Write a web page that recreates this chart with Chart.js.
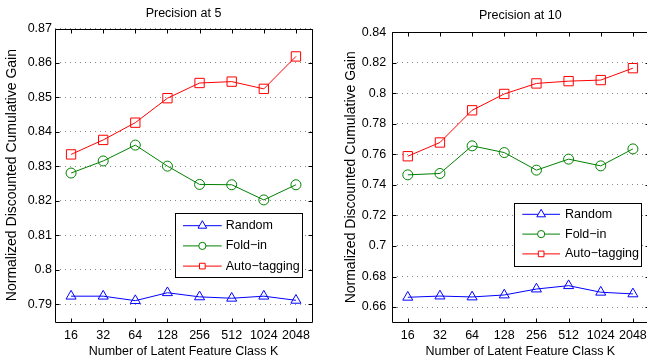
<!DOCTYPE html>
<html>
<head>
<meta charset="utf-8">
<script src="https://cdn.jsdelivr.net/npm/chart.js@4.4.1/dist/chart.umd.min.js"></script>
<style>
  html, body { margin: 0; padding: 0; background: #fff; overflow: hidden; }
  body { width: 647px; height: 360px; position: relative; }
  canvas { position: absolute; top: 0; }
</style>
</head>
<body>
<canvas id="p5" width="320" height="360" style="left:0"></canvas>
<canvas id="p10" width="340" height="360" style="left:320px"></canvas>
<script>
// latent feature class sizes K
const kLabels = ["16", "32", "64", "128", "256", "512", "1024", "2048"];
const seriesNames = ["Random", "Fold\u2212in", "Auto\u2212tagging"];

// precision at 5
const randomP5 = [0.7924, 0.7924, 0.7911, 0.7934, 0.7922, 0.7918, 0.7924, 0.7912];
const foldinP5 = [0.8281, 0.8316, 0.8362, 0.8301, 0.8248, 0.8247, 0.8203, 0.8247];
const autotagP5 = [0.8335, 0.8377, 0.8427, 0.8498, 0.8542, 0.8546, 0.8525, 0.8619];
const yTicksP5 = [0.79, 0.80, 0.81, 0.82, 0.83, 0.84, 0.85, 0.86, 0.87];

// precision at 10
const randomP10 = [0.6664, 0.6672, 0.6666, 0.6679, 0.6718, 0.6740, 0.6697, 0.6686];
const foldinP10 = [0.7466, 0.7475, 0.7656, 0.7612, 0.7497, 0.7569, 0.7525, 0.7636];
const autotagP10 = [0.7588, 0.7678, 0.7889, 0.7996, 0.8065, 0.8080, 0.8087, 0.8165];
const yTicksP10 = [0.66, 0.68, 0.70, 0.72, 0.74, 0.76, 0.78, 0.80, 0.82, 0.84];

const FONT = "'Liberation Sans', Arial, Helvetica, sans-serif";
const TXT = "#000";

const styles = [
  { color: "#0000ff", point: "triangle", radius: 5.8, legendRadius: 5 },
  { color: "#008000", point: "circle", radius: 5, legendRadius: 3.6 },
  { color: "#ff0000", point: "rect", radius: 6.6, legendRadius: 4 },
];

// box with inward ticks on all four sides + legend inside the axes
const matlabAxes = {
  id: "matlabAxes",
  afterDatasetsDraw(chart, args, opts) {
    const { ctx, chartArea: a, scales: { x, y } } = chart;
    const L = Math.round(a.left) + 0.5, R = Math.round(a.right) + 0.5;
    const T = Math.round(a.top) + 0.5, B = Math.round(a.bottom) + 0.5;
    ctx.save();
    ctx.strokeStyle = "#000";
    ctx.lineWidth = 1;
    ctx.beginPath();
    ctx.rect(L, T, R - L, B - T);
    kLabels.forEach((k, i) => {
      const px = Math.round(x.getPixelForValue(i)) + 0.5;
      ctx.moveTo(px, T); ctx.lineTo(px, T + 4);
      ctx.moveTo(px, B); ctx.lineTo(px, B - 4);
    });
    opts.ticks.forEach(v => {
      const py = Math.round(y.getPixelForValue(v)) + 0.5;
      ctx.moveTo(L, py); ctx.lineTo(L + 4, py);
      ctx.moveTo(R, py); ctx.lineTo(R - 4, py);
    });
    ctx.stroke();

    // legend
    const lg = opts.legend;
    ctx.fillStyle = "#fff";
    ctx.fillRect(lg.left, lg.top, lg.width, lg.height);
    ctx.strokeRect(Math.round(lg.left) + 0.5, Math.round(lg.top) + 0.5, Math.round(lg.width), Math.round(lg.height));
    ctx.font = "12.5px " + FONT;
    ctx.textBaseline = "middle";
    ctx.textAlign = "left";
    seriesNames.forEach((name, i) => {
      const st = styles[i];
      const ry = lg.top + lg.rowStart + i * lg.rowGap;
      ctx.strokeStyle = st.color;
      ctx.lineWidth = 1;
      ctx.beginPath();
      ctx.moveTo(lg.left + lg.lineStart, ry);
      ctx.lineTo(lg.left + lg.lineStart + lg.lineLen, ry);
      ctx.stroke();
      ctx.fillStyle = "#fff";
      Chart.helpers.drawPoint(ctx, { pointStyle: st.point, radius: st.legendRadius, borderWidth: 1 },
        lg.left + lg.lineStart + lg.lineLen / 2, ry);
      ctx.fillStyle = TXT;
      ctx.fillText(name, lg.left + lg.textX, ry);
    });
    ctx.restore();
  }
};

function makeChart(id, title, values, yMin, yMax, yTicks, lay) {
  const datasets = values.map((vals, i) => ({
    label: seriesNames[i],
    data: vals,
    borderColor: styles[i].color,
    backgroundColor: "rgba(0,0,0,0)",
    pointBackgroundColor: "rgba(0,0,0,0)",
    pointBorderColor: styles[i].color,
    pointStyle: styles[i].point,
    pointRadius: styles[i].radius,
    pointBorderWidth: 1,
    borderWidth: 1,
    tension: 0,
    fill: false,
  }));

  return new Chart(document.getElementById(id), {
    type: "line",
    data: { labels: kLabels, datasets },
    plugins: [matlabAxes],
    options: {
      responsive: false,
      animation: false,
      devicePixelRatio: 1,
      layout: { padding: { left: 0, right: lay.padRight, top: 0, bottom: 0 } },
      scales: {
        x: {
          type: "category",
          offset: true,
          afterFit: s => { s.height = lay.xHeight; },
          ticks: { padding: lay.xTickPad, autoSkip: false, maxRotation: 0, color: TXT, font: { family: FONT, size: 12.5 } },
          grid: { display: false, drawTicks: false },
          border: { display: false },
          title: {
            display: true, text: "Number of Latent Feature Class K", color: TXT,
            font: { family: FONT, size: 12.5 }, padding: { top: 0, bottom: 1 }
          }
        },
        y: {
          min: yMin, max: yMax,
          afterBuildTicks: s => { s.ticks = yTicks.map(v => ({ value: v })); },
          afterFit: s => { s.width = lay.yWidth; },
          ticks: {
            padding: lay.yTickPad, color: TXT, font: { family: FONT, size: 12.5 },
            callback: v => String(+v.toFixed(2))
          },
          grid: { color: "#8a8a8a", lineWidth: 1, drawTicks: false },
          border: { display: false, dash: [1, 4] },
          title: {
            display: true, text: "Normalized Discounted Cumulative Gain", color: TXT,
            font: { family: FONT, size: 14 }, padding: { top: lay.yTitlePad, bottom: 0 }
          }
        }
      },
      plugins: {
        legend: { display: false },
        tooltip: { enabled: false },
        title: {
          display: true, text: title, fullSize: false, color: TXT,
          font: { family: FONT, size: 12.5, weight: "normal" },
          padding: { top: lay.titleTop, bottom: lay.titleBottom }
        },
        matlabAxes: { ticks: yTicks, legend: lay.legend }
      }
    }
  });
}

makeChart("p5", "Precision at 5", [randomP5, foldinP5, autotagP5], 0.785, 0.87, yTicksP5, {
  padRight: 8, xHeight: 38.3, xTickPad: 6, yWidth: 55, yTickPad: 3, yTitlePad: 3.6,
  titleTop: 6, titleBottom: 7.5,
  legend: { left: 175, top: 213.3, width: 126.7, height: 64.4, rowStart: 12.4, rowGap: 20.2, lineStart: 8, lineLen: 38.7, textX: 50.7 }
});

makeChart("p10", "Precision at 10", [randomP10, foldinP10, autotagP10], 0.65, 0.84, yTicksP10, {
  padRight: 11, xHeight: 37.7, xTickPad: 6, yWidth: 71.7, yTickPad: 5.5, yTitlePad: 22.6,
  titleTop: 8.5, titleBottom: 8.8,
  legend: { left: 194.3, top: 202.7, width: 126.7, height: 63, rowStart: 11.6, rowGap: 19.8, lineStart: 8, lineLen: 37.7, textX: 50.7 }
});
</script>
</body>
</html>
